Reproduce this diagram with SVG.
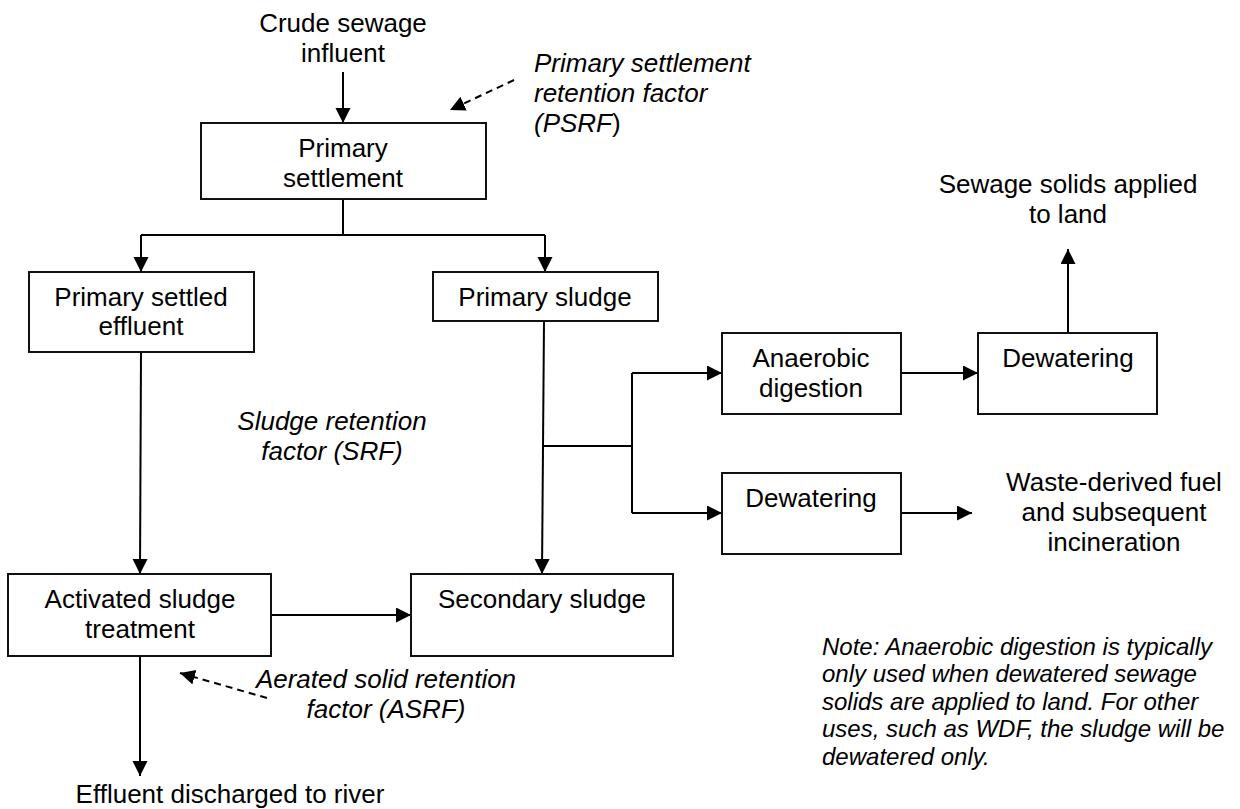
<svg xmlns="http://www.w3.org/2000/svg" width="1240" height="809" viewBox="0 0 1240 809">
<style>
  .box { fill: #fff; stroke: #111; stroke-width: 2; }
  .t { font-family: "Liberation Sans", Arial, sans-serif; font-size: 26px; fill: #000; text-anchor: middle; }
  .it { font-family: "Liberation Sans", Arial, sans-serif; font-size: 26px; fill: #000; font-style: italic; }
  .note { font-family: "Liberation Sans", Arial, sans-serif; font-size: 24px; fill: #000; font-style: italic; }
  .ln { fill: none; stroke: #000; stroke-width: 2; }
  .arr { fill: none; stroke: #000; stroke-width: 2; marker-end: url(#ah); }
  .dash { fill: none; stroke: #000; stroke-width: 2; stroke-dasharray: 7 5; marker-end: url(#ah); }
</style>
<defs>
  <marker id="ah" markerUnits="userSpaceOnUse" markerWidth="16" markerHeight="16" refX="15" refY="7.5" orient="auto">
    <path d="M0,0 L15,7.5 L0,15 z" fill="#000"/>
  </marker>
</defs>
<rect width="1240" height="809" fill="#fff"/>

<g id="connectors">
  <path class="arr" d="M343,72 L343,123"/>
  <path class="ln" d="M343,199 L343,235 M141,235 L545,235"/>
  <path class="arr" d="M141,235 L141,272"/>
  <path class="arr" d="M545,235 L545,272"/>
  <path class="arr" d="M141,352 L140,574"/>
  <path class="arr" d="M544,321 L542,574"/>
  <path class="ln" d="M542,446 L632,446 M632,373 L632,513"/>
  <path class="arr" d="M632,373 L722,373"/>
  <path class="arr" d="M632,513 L722,513"/>
  <path class="arr" d="M901,373 L978,373"/>
  <path class="arr" d="M1068,333 L1068,249"/>
  <path class="arr" d="M901,513 L972,513"/>
  <path class="arr" d="M271,615 L411,615"/>
  <path class="arr" d="M140,656 L140,776"/>
  <path class="dash" d="M514,80 L450,110"/>
  <path class="dash" d="M267,698 L180,673"/>
</g>

<g id="crude-sewage">
  <text class="t" x="343" y="32">Crude sewage</text>
  <text class="t" x="343" y="62">influent</text>
</g>

<g id="psrf-label">
  <text class="it" x="534" y="72">Primary settlement</text>
  <text class="it" x="534" y="102">retention factor</text>
  <text class="it" x="534" y="132">(PSRF<tspan font-style="normal">)</tspan></text>
</g>

<g id="primary-settlement">
  <rect class="box" x="201" y="123" width="285" height="76"/>
  <text class="t" x="343" y="157">Primary</text>
  <text class="t" x="343" y="187">settlement</text>
</g>

<g id="primary-settled-effluent">
  <rect class="box" x="29" y="272" width="225" height="80"/>
  <text class="t" x="141" y="306">Primary settled</text>
  <text class="t" x="141" y="335">effluent</text>
</g>

<g id="primary-sludge">
  <rect class="box" x="433" y="272" width="225" height="49"/>
  <text class="t" x="545" y="306">Primary sludge</text>
</g>

<g id="srf-label">
  <text class="it" x="332" y="430" text-anchor="middle">Sludge retention</text>
  <text class="it" x="332" y="460" text-anchor="middle">factor (SRF)</text>
</g>

<g id="anaerobic-digestion">
  <rect class="box" x="722" y="333" width="179" height="81"/>
  <text class="t" x="811" y="367">Anaerobic</text>
  <text class="t" x="811" y="397">digestion</text>
</g>

<g id="dewatering-1">
  <rect class="box" x="978" y="333" width="179" height="81"/>
  <text class="t" x="1068" y="367">Dewatering</text>
</g>

<g id="land">
  <text class="t" x="1068" y="193">Sewage solids applied</text>
  <text class="t" x="1068" y="223">to land</text>
</g>

<g id="dewatering-2">
  <rect class="box" x="722" y="473" width="179" height="81"/>
  <text class="t" x="811" y="507">Dewatering</text>
</g>

<g id="wdf">
  <text class="t" x="1114" y="491">Waste-derived fuel</text>
  <text class="t" x="1114" y="521">and subsequent</text>
  <text class="t" x="1114" y="551">incineration</text>
</g>

<g id="activated-sludge">
  <rect class="box" x="8" y="574" width="263" height="82"/>
  <text class="t" x="140" y="608">Activated sludge</text>
  <text class="t" x="140" y="638">treatment</text>
</g>

<g id="secondary-sludge">
  <rect class="box" x="411" y="574" width="262" height="82"/>
  <text class="t" x="542" y="608">Secondary sludge</text>
</g>

<g id="asrf-label">
  <text class="it" x="386" y="688" text-anchor="middle">Aerated solid retention</text>
  <text class="it" x="386" y="718" text-anchor="middle">factor (ASRF)</text>
</g>

<g id="effluent-river">
  <text class="t" x="230" y="803">Effluent discharged to river</text>
</g>

<g id="note">
  <text class="note" x="822" y="655">Note: Anaerobic digestion is typically</text>
  <text class="note" x="822" y="682">only used when dewatered sewage</text>
  <text class="note" x="822" y="710">solids are applied to land. For other</text>
  <text class="note" x="822" y="737">uses, such as WDF, the sludge will be</text>
  <text class="note" x="822" y="765">dewatered only.</text>
</g>
</svg>
